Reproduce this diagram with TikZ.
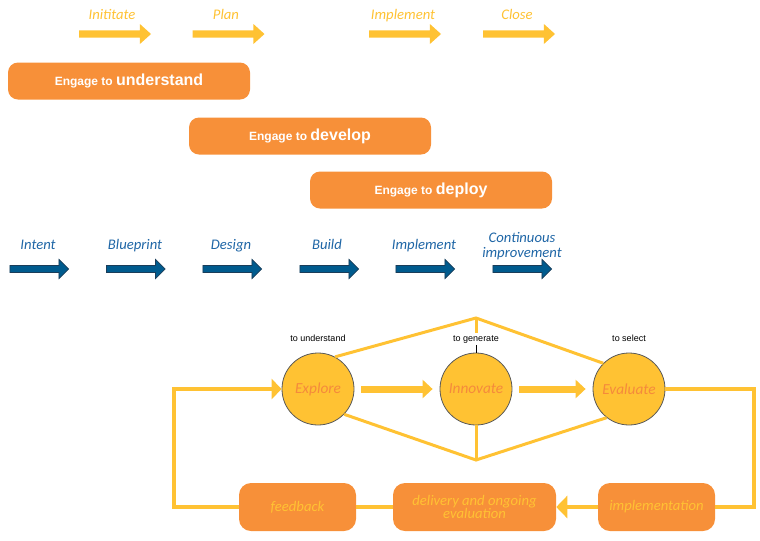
\documentclass[tikz,border=0pt]{standalone}
\usepackage{fontspec}
\setmainfont{Liberation Sans}
\newfontfamily\handfont{Carlito}
\usepackage{tikz}
\usetikzlibrary{shapes.arrows,arrows.meta}
\usepackage{xcolor}
\definecolor{engageorange}{HTML}{F79039}
\definecolor{phaseyellow}{HTML}{FFC233}
\definecolor{stepblue}{HTML}{005B8E}
\definecolor{stepedge}{HTML}{1B3D59}
\definecolor{stepbluetext}{HTML}{1F66A6}
\definecolor{circletext}{HTML}{F58A3C}
\tikzset{
  phase arrow/.style = {single arrow, fill=phaseyellow, inner sep=2.5pt,
    single arrow head extend=4.8pt, single arrow tip angle=84, minimum height=54pt},
  phase label/.style = {text=phaseyellow, text height=7.5pt, text depth=2.5pt,
    font=\handfont\itshape\fontsize{11}{12}\selectfont},
  step arrow/.style = {single arrow, fill=stepblue, draw=stepedge, line width=0.5pt,
    inner sep=2.4pt, single arrow head extend=4.6pt, single arrow tip angle=90, minimum height=44pt},
  step label/.style = {text=stepbluetext, align=center,
    font=\handfont\itshape\fontsize{11}{11.5}\selectfont},
  engage/.style = {fill=engageorange, text=white, rounded corners=7.5pt,
    minimum width=181.5pt, minimum height=27.75pt, font=\bfseries},
  cycle circle/.style = {circle, fill=phaseyellow, draw=black!65, line width=0.6pt,
    minimum size=54pt, inner sep=0pt, text=circletext,
    font=\handfont\itshape\fontsize{11.5}{12}\selectfont},
  small label/.style = {font=\fontsize{6.75}{8}\selectfont, inner sep=1pt,
    text height=5pt, text depth=1.5pt},
  stage box/.style = {fill=engageorange, rounded corners=9pt, minimum height=36pt,
    minimum width=87.75pt, align=center, text=phaseyellow,
    font=\handfont\itshape\fontsize{11}{12}\selectfont},
  frame line/.style = {draw=phaseyellow, line width=2.25pt},
  loop line/.style = {draw=phaseyellow, line width=2.6pt},
  big arrow/.style = {draw=phaseyellow, line width=5.25pt,
    -{Triangle[length=7.5pt,width=13.5pt]}, shorten <=5.25pt, shorten >=5.25pt}
}

\begin{document}
\begin{tikzpicture}[x=0.75pt,y=-0.75pt]

  \useasboundingbox (0,0) rectangle (760,540);

  % project phases (top)
  \node[phase arrow] (initiate-arrow) at (113,34) {};
  \node[phase arrow] (plan-arrow) at (226.5,34) {};
  \node[phase arrow] (implement-arrow) at (403,34) {};
  \node[phase arrow] (close-arrow) at (517,34) {};
  \node[phase label] (initiate) at (112,16.5) {Inititate};
  \node[phase label] (plan) at (226,16.5) {Plan};
  \node[phase label] (implement) at (403,16.5) {Implement};
  \node[phase label] (close) at (517,16.5) {Close};

  \node[engage] (understand) at (129,81) {\fontsize{9}{10}\selectfont Engage to \fontsize{12}{13}\selectfont understand};
  \node[engage] (develop) at (310,136) {\fontsize{9}{10}\selectfont Engage to \fontsize{12}{13}\selectfont develop};
  \node[engage] (deploy) at (431,190) {\fontsize{9}{10}\selectfont Engage to \fontsize{12}{13}\selectfont deploy};

  % steps (middle)
  \node[step arrow] (intent-arrow) at (37.5,269) {};
  \node[step arrow] (blueprint-arrow) at (134,269) {};
  \node[step arrow] (design-arrow) at (230.5,269) {};
  \node[step arrow] (build-arrow) at (327.5,269) {};
  \node[step arrow] (implement2-arrow) at (423.5,269) {};
  \node[step arrow] (improve-arrow) at (520.5,269) {};
  \node[step label, text height=7.5pt, text depth=2.5pt] (intent) at (38,246.5) {Intent};
  \node[step label, text height=7.5pt, text depth=2.5pt] (blueprint) at (135,246.5) {Blueprint};
  \node[step label, text height=7.5pt, text depth=2.5pt] (design) at (231,246.5) {Design};
  \node[step label, text height=7.5pt, text depth=2.5pt] (build) at (327,246.5) {Build};
  \node[step label, text height=7.5pt, text depth=2.5pt] (implement2) at (424,246.5) {Implement};
  \node[step label] (improve) at (522,246) {Continuous\\improvement};

  % cycle (bottom)
  \node[small label] (understand-label) at (318,339) {to understand};
  \node[small label] (generate-label) at (476,339) {to generate};
  \node[small label] (select-label) at (629,339) {to select};

  \coordinate (gen-top) at (476,318);
  \coordinate (gen-bottom) at (476,460);
  \coordinate (left-corner) at (174,389);
  \coordinate (right-corner) at (754,507);

  \node[cycle circle] (explore) at (318,389) {Explore};
  \node[cycle circle] (innovate) at (476,389) {Innovate};
  \node[cycle circle] (evaluate) at (629,389) {Evaluate};

  \node[stage box] (feedback) at (297.5,507) {feedback};
  \node[stage box, minimum width=122.25pt] (delivery) at (474.5,507) {delivery and ongoing\\[-2pt]evaluation};
  \node[stage box] (implementation) at (656.5,507) {implementation};

  \draw[frame line] (explore.62) -- (gen-top) -- (evaluate.135);
  \draw[frame line] (explore.-44) -- (gen-bottom) -- (evaluate.232);
  \draw[frame line] (gen-top) -- (generate-label.north);
  \draw[frame line] (innovate.south) -- (gen-bottom);
  \draw[black, line width=0.6pt] (generate-label.south) -- (innovate.north);

  \draw[big arrow] (explore) -- (innovate);
  \draw[big arrow] (innovate) -- (evaluate);

  \draw[loop line] (evaluate.east) -| (right-corner) -- (implementation.east);
  \draw[loop line, -{Triangle[length=8.25pt,width=16.5pt]}] (implementation.west) -- (delivery.east);
  \draw[loop line] (delivery.west) -- (feedback.east);
  \draw[loop line, -{Triangle[length=7.5pt,width=15pt]}] (feedback.west) -| (left-corner) -- (explore.west);

\end{tikzpicture}
\end{document}
